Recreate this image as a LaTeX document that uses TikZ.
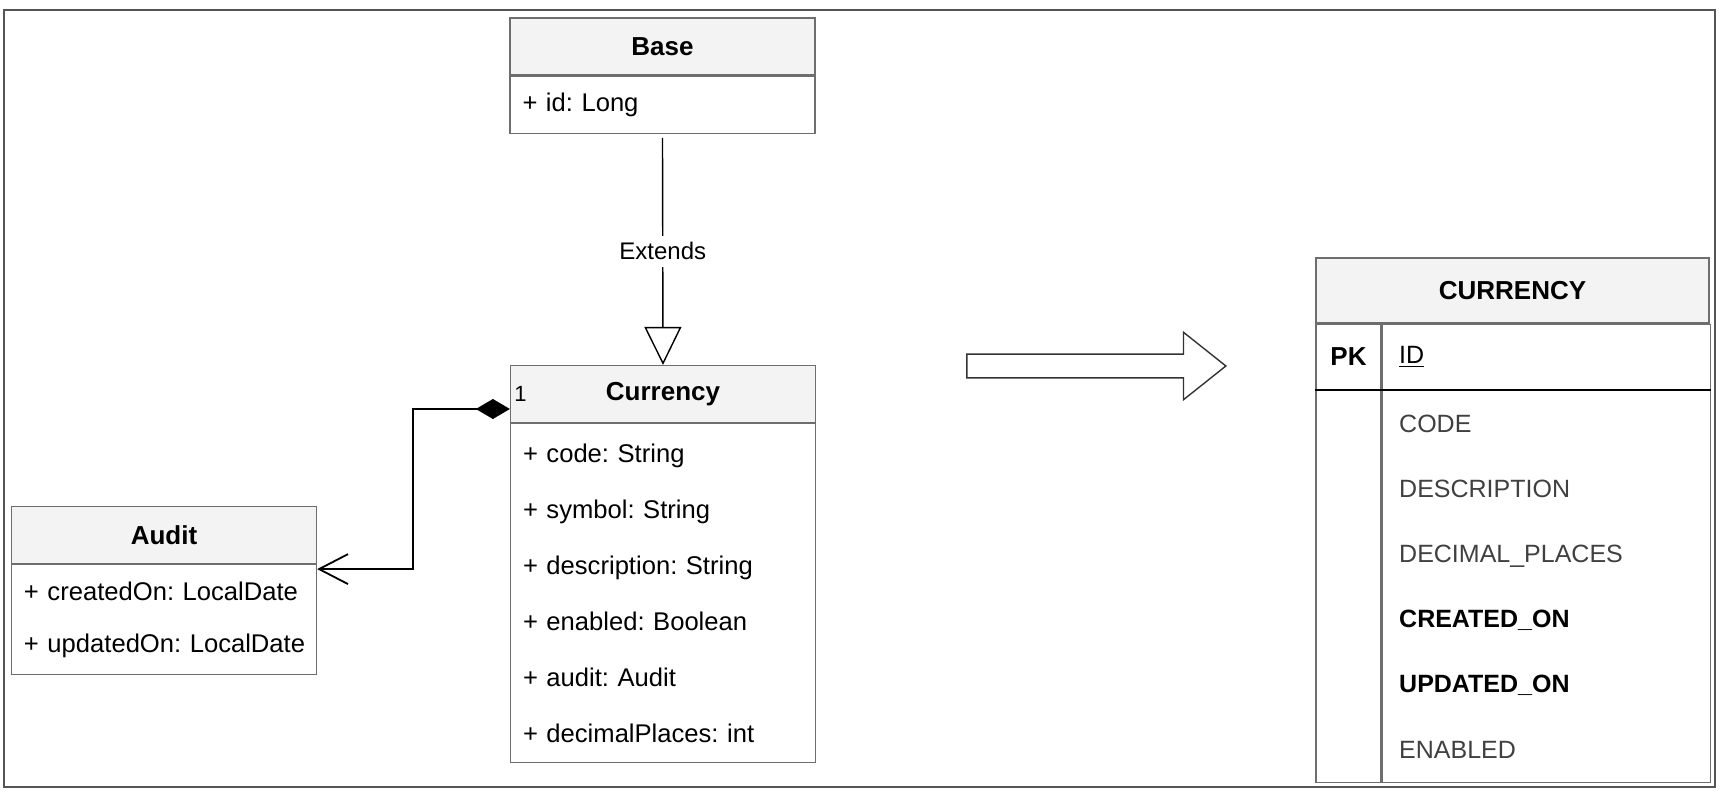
\documentclass[tikz,border=0pt]{standalone}
\usepackage{fontspec}
\setmainfont{Liberation Sans}
\usetikzlibrary{positioning,arrows.meta,shapes.arrows}
\definecolor{headgray}{RGB}{243,243,243}
\definecolor{boxgray}{RGB}{110,110,110}
\definecolor{framegray}{RGB}{85,85,85}
\tikzset{
  classhead/.style={draw=boxgray, fill=headgray, line width=0.6pt, minimum width=152.5pt,
    minimum height=28.5pt, inner sep=0pt, font=\fontsize{13}{16}\selectfont\bfseries},
  classbody/.style={draw=boxgray, line width=0.6pt, minimum width=152.5pt, text width=140pt,
    inner xsep=6.25pt, inner ysep=0pt, align=left, font=\fontsize{12.8}{28}\selectfont},
  tablehead/.style={draw=boxgray, fill=headgray, line width=0.6pt, minimum width=196.5pt,
    minimum height=32.5pt, inner sep=0pt, font=\fontsize{13}{16}\selectfont\bfseries},
  keycell/.style={draw=boxgray, line width=0.6pt, minimum width=32.5pt, inner sep=0pt,
    font=\fontsize{13}{16}\selectfont\bfseries},
  fieldcell/.style={draw=boxgray, line width=0.6pt, minimum width=164pt, text width=147pt,
    inner xsep=8.5pt, inner ysep=0pt, align=left, font=\fontsize{12.5}{32.6}\selectfont},
  extends/.style={line width=0.7pt, -{Triangle[open, length=19pt, width=18.5pt]}},
  compose/.style={line width=0.9pt, {Diamond[length=17pt, width=10pt]}-{Straight Barb[length=14.5pt, width=15pt]}},
  maparrow/.style={single arrow, draw=black!80, line width=0.7pt, inner xsep=0pt, inner ysep=5.6pt,
    single arrow head extend=10.9pt, single arrow tip angle=77, minimum height=129.5pt}
}
\begin{document}
\frenchspacing
\begin{tikzpicture}[x=0.5pt, y=-0.5pt]
  \useasboundingbox (0,0) rectangle (1721,792);
  \draw[framegray, line width=1.2pt] (4,10) rectangle (1715,787);
  % classes
  \node[classhead] (base) at (662.5,46.5) {Base};
  \node[classbody, minimum height=28.5pt, below=0pt of base] (baseattrs) {+ id: Long};
  \node[classhead] (currency) at (663,394) {Currency};
  \node[classbody, minimum height=169.5pt, below=0pt of currency] (currencyattrs) {+ code: String\\
    + symbol: String\\ + description: String\\ + enabled: Boolean\\ + audit: Audit\\ + decimalPlaces: int};
  \node[classhead] (audit) at (164,535) {Audit};
  \node[classbody, minimum height=55pt, below=0pt of audit, font=\fontsize{12.8}{26}\selectfont] (auditattrs)
    {\mbox{+ createdOn: LocalDate}\\ \mbox{+ updatedOn: LocalDate}};
  \node[font=\fontsize{11}{13}\selectfont, anchor=west, inner sep=0pt] (mult) at ([xshift=2pt]currency.west) {1};
  \draw[extends] ([yshift=-2pt]baseattrs.south) -- node[fill=white, font=\fontsize{12}{14}\selectfont] {Extends} (currency.north);
  \draw[compose] ([yshift=-7.5pt]currency.west) -- ++(-97,0) |- ([yshift=-2.5pt]audit.south east);
  % mapping
  \node[maparrow, anchor=tip] (map) at (1227,366) {};
  % table
  \node[tablehead] (table) at (1512.5,290.5) {CURRENCY};
  \node[keycell, anchor=north west, minimum height=32.5pt] (pk) at (table.south west) {PK};
  \node[fieldcell, anchor=north west, minimum height=32.5pt] (id) at (pk.north east) {\underline{ID}};
  \node[keycell, anchor=north west, minimum height=196pt] (keys) at (pk.south west) {};
  \node[fieldcell, anchor=north west, minimum height=196pt, text=black!75] (fields) at (keys.north east) {CODE\\
    DESCRIPTION\\ DECIMAL\_PLACES\\ \textcolor{black}{\bfseries CREATED\_ON}\\ \textcolor{black}{\bfseries UPDATED\_ON}\\ ENABLED};
  \draw[line width=1pt] (pk.south west) -- (id.south east);
\end{tikzpicture}
\end{document}
